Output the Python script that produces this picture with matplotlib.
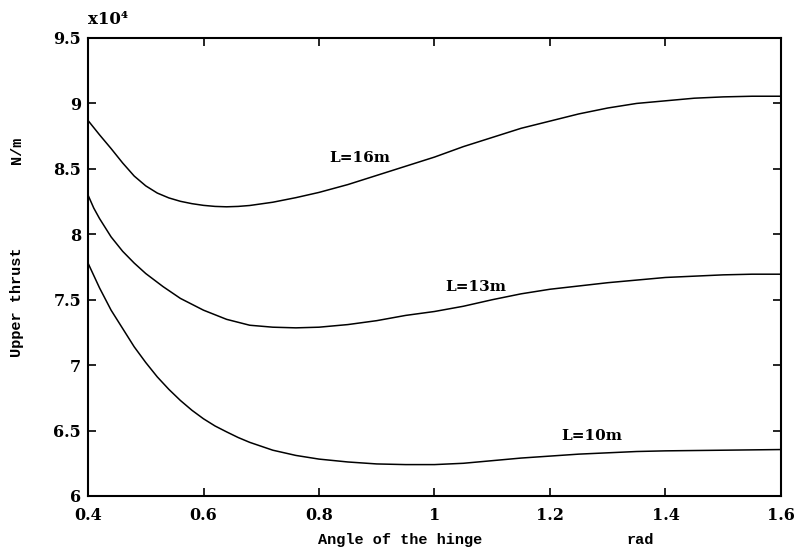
import matplotlib
matplotlib.use("Agg")
import matplotlib.pyplot as plt

x16 = [0.40, 0.42, 0.44, 0.46, 0.48, 0.50, 0.52, 0.54, 0.56, 0.58, 0.60, 0.62, 0.64, 0.66,
       0.68, 0.72, 0.76, 0.80, 0.85, 0.90, 0.95, 1.00, 1.05, 1.10, 1.15, 1.20, 1.25, 1.30,
       1.35, 1.40, 1.45, 1.50, 1.55, 1.60]
y16 = [8.87, 8.76, 8.655, 8.545, 8.445, 8.37, 8.315, 8.278, 8.252, 8.234, 8.221, 8.213, 8.21, 8.213,
       8.22, 8.245, 8.28, 8.32, 8.38, 8.45, 8.52, 8.59, 8.67, 8.74, 8.81, 8.865, 8.92, 8.965,
       9.00, 9.02, 9.04, 9.05, 9.055, 9.055]

x13 = [0.40, 0.41, 0.42, 0.43, 0.44, 0.46, 0.48, 0.50, 0.53, 0.56, 0.60, 0.64, 0.68, 0.72,
       0.76, 0.80, 0.85, 0.90, 0.95, 1.00, 1.05, 1.10, 1.15, 1.20, 1.25, 1.30, 1.35, 1.40,
       1.45, 1.50, 1.55, 1.60]
y13 = [8.30, 8.20, 8.12, 8.05, 7.98, 7.87, 7.78, 7.70, 7.60, 7.51, 7.42, 7.35, 7.305, 7.29,
       7.285, 7.29, 7.31, 7.34, 7.38, 7.41, 7.45, 7.50, 7.545, 7.58, 7.605, 7.63, 7.65, 7.67,
       7.68, 7.69, 7.695, 7.695]

x10 = [0.40, 0.42, 0.44, 0.46, 0.48, 0.50, 0.52, 0.54, 0.56, 0.58, 0.60, 0.62, 0.64, 0.66,
       0.68, 0.72, 0.76, 0.80, 0.85, 0.90, 0.95, 1.00, 1.05, 1.10, 1.15, 1.20, 1.25, 1.30,
       1.35, 1.40, 1.50, 1.60]
y10 = [7.78, 7.59, 7.42, 7.28, 7.14, 7.02, 6.91, 6.815, 6.73, 6.655, 6.59, 6.535, 6.49, 6.447,
       6.41, 6.35, 6.31, 6.282, 6.26, 6.245, 6.24, 6.24, 6.25, 6.27, 6.29, 6.305, 6.32, 6.33,
       6.34, 6.345, 6.35, 6.355]

labels = ["L=16m", "L=13m", "L=10m"]
label_pos = [(0.871, 8.583), (1.072, 7.598), (1.273, 6.46)]

xticks = [0.4, 0.6, 0.8, 1.0, 1.2, 1.4, 1.6]
xticklabels = ["0.4", "0.6", "0.8", "1", "1.2", "1.4", "1.6"]
yticks = [6, 6.5, 7, 7.5, 8, 8.5, 9, 9.5]
yticklabels = ["6", "6.5", "7", "7.5", "8", "8.5", "9", "9.5"]

W, H = 799, 552
fig = plt.figure(figsize=(W / 100, H / 100), dpi=100)
ax = fig.add_axes([88 / W, 1 - 496 / H, (781 - 88) / W, (496 - 38) / H])

for xs, ys in [(x16, y16), (x13, y13), (x10, y10)]:
    ax.plot(xs, ys, color="black", lw=1.1)

serif_b = dict(family="DejaVu Serif", weight="bold", size=11)
tick_b = dict(family="DejaVu Serif", weight="bold", size=11.5)
for lab, (lx, ly) in zip(labels, label_pos):
    ax.text(lx, ly, lab, ha="center", va="center", **serif_b)

ax.set_xlim(0.4, 1.6)
ax.set_ylim(6, 9.5)
ax.set_xticks(xticks)
ax.set_xticklabels(xticklabels, fontdict=tick_b)
ax.set_yticks(yticks)
ax.set_yticklabels(yticklabels, fontdict=tick_b)
ax.tick_params(direction="in", length=6, width=1.2, top=True, right=True)
ax.tick_params(axis="x", pad=8)
ax.tick_params(axis="y", pad=5)
for s in ax.spines.values():
    s.set_linewidth(1.5)

mono = dict(family="Liberation Mono", weight="bold", size=11)
fig.text(17 / W, 1 - 150 / H, "N/m", rotation=90, ha="center", va="center", **mono)
fig.text(17 / W, 1 - 302 / H, "Upper thrust", rotation=90, ha="center", va="center", **mono)
fig.text(400 / W, 1 - 540 / H, "Angle of the hinge", ha="center", va="center", **mono)
fig.text(640 / W, 1 - 540 / H, "rad", ha="center", va="center", **mono)
fig.text(88 / W, 1 - 19 / H, "x10\u2074", ha="left", va="center",
         family="DejaVu Serif", weight="bold", size=12)

fig.savefig("out.png", dpi=100)
